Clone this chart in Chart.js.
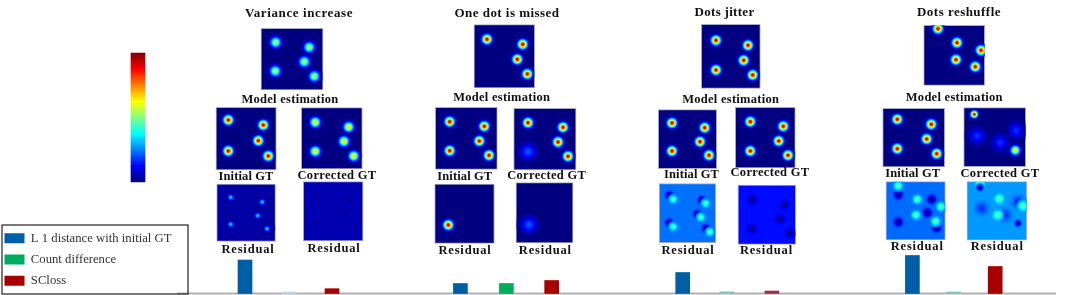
<!DOCTYPE html>
<html><head><meta charset="utf-8">
<style>html,body{margin:0;padding:0;background:#fff}canvas{display:block;filter:blur(.6px)}</style>
<script src="https://cdn.jsdelivr.net/npm/chart.js@4"></script></head>
<body><canvas id="c" width="1080" height="295"></canvas>
<script>
// ---------- bar values ----------
const barGroups=['Variance increase','One dot is missed','Dots jitter','Dots reshuffle'];
const l1Values=[33.5,10,21,38];
const countValues=[1.5,10,1.7,1.5];
const scValues=[4.8,13,2.5,27];
const l1X=[245,460.4,682.7,912.4];
const countX=[288.8,506.4,727,953.8];
const scX=[332,551.7,771.9,995.2];
const seriesNames=['L 1 distance with initial GT','Count difference','SCloss'];
// ---------- dot locations ----------
const varTop=[[275.7,42.3],[309.3,47.3],[304.3,61.7],[275.3,71],[314.3,76.3]];
const varInit=[[228.3,120],[263.3,125],[258.3,140.7],[228.3,151],[268.3,156]];
const varCorr=[[315.3,122.3],[348.7,127],[344,141.3],[315.3,151.3],[353.7,156]];
const varResL=[[230.7,197.3],[262.3,202],[257.7,215.7],[230.7,224.3],[267,228.7]];
const varResR=[[316,195.7],[349,200.3],[343.3,214],[316.7,222.7],[353.7,227.3]];
const missTop=[[487,39.3],[522.7,44.3],[517.3,59.3],[527.3,74]];
const missInit=[[449.7,121.7],[484.3,126.3],[479.3,141],[449.7,150.7],[489,155.3]];
const missCorr=[[528,122.7],[563,127.3],[558,142],[568,156.3]];
const missCorrFaint=[[528,151.7]];
const missResL=[[448.3,225]];
const missResR=[[529,224.7]];
const jitTop=[[716,40.3],[748,45.3],[743.7,60.3],[716,70],[752.7,75]];
const jitInit=[[672,123],[704.7,127.7],[700,141.7],[672,151],[709,155.3]];
const jitCorr=[[750.3,121.7],[783.3,126.3],[778.7,141],[750.3,151],[788,155.3]];
const jitResDark=[[669.3,195],[701.7,200],[697.3,214],[669.3,222.7],[706,228.3]];
const jitResBright=[[673.3,199.3],[705.7,203.3],[701,217.3],[673.3,226.7],[710,232]];
const jitResR=[[752,200],[785,204.7],[780.3,219],[752,228.7],[790,233.3]];
const shufTop=[[938,28.7],[957,42.7],[981,50.3],[956,59.7],[975.3,66.7]];
const shufInit=[[897.3,119.3],[931.3,124.3],[926.7,139],[897.3,148.7],[936.7,153.7]];
const shufCorrHot=[[974.3,114.3]];
const shufCorrFaint=[[977.3,136],[1016,130.7],[1000.3,142.7]];
const shufCorrYellow=[[1015.3,150.3]];
const shufResLBright=[[898.3,185.7],[917.3,199.3],[941,206.7],[916,215],[935.7,221.3]];
const shufResLDark=[[898.3,194.7],[931.7,199.3],[927.3,212.7],[898.3,222],[936.7,227.7]];
const shufResRBright=[[980,183.3],[999.3,198.7],[1023,206],[997.7,215]];
const shufResRDark=[[980,187.7],[1018,223.3]];
const shufResRSoft=[[1017.7,201.7],[1005,215],[981.7,208.3]];
// ---------- layout of the composite ----------
const HOT=8.5;
const panels=[
 {box:[261,323,28.3,90],bg:0,layers:[[varTop,.57,9.5]]},
 {box:[216,276.3,107.3,170],bg:0,layers:[[varInit,.92,HOT]]},
 {box:[301.3,362.3,107.7,169],bg:0,layers:[[varCorr,.68,9]]},
 {box:[216.7,275.5,184,241.5],bg:.035,layers:[[varResL,0,9],[varResL,.34,5]]},
 {box:[303.3,363,181.7,241],bg:.05,layers:[[varResR,.02,5]]},
 {box:[474,534.7,24.7,88],bg:0,layers:[[missTop,.92,HOT]]},
 {box:[435.3,497.3,107.3,169.3],bg:0,layers:[[missInit,.92,HOT]]},
 {box:[513.7,576,108.3,170],bg:0,layers:[[missCorr,.92,HOT],[missCorrFaint,.21,14]]},
 {box:[434.7,494.3,184,243.3],bg:0,layers:[[missResL,.92,HOT]]},
 {box:[516,573,182.7,243],bg:0,layers:[[missResR,.21,14]]},
 {box:[701.3,760.3,24.3,88.3],bg:0,layers:[[jitTop,.92,HOT]]},
 {box:[658.3,716.7,109.7,168.7],bg:0,layers:[[jitInit,.92,HOT]]},
 {box:[735.3,795.3,107.3,168],bg:0,layers:[[jitCorr,.92,HOT]]},
 {box:[659.3,715.7,183.7,242.6],bg:.235,layers:[[jitResDark,0,6.5],[jitResBright,.47,6.5]]},
 {box:[738,795.7,185,244.3],bg:.135,layers:[[jitResR,0,7]]},
 {box:[923.7,984.7,25.3,85.3],bg:0,layers:[[shufTop,.92,HOT]]},
 {box:[882.7,944.7,108.3,167],bg:0,layers:[[shufInit,.92,HOT]]},
 {box:[963.7,1025.7,107.7,166.7],bg:0,layers:[[shufCorrFaint,.17,14],[shufCorrHot,.92,6.5],[shufCorrYellow,.66,8.5]]},
 {box:[886,945.3,181.7,239.8],bg:.23,layers:[[shufResLDark,0,7.5],[shufResLBright,.48,7.5]]},
 {box:[967,1026.7,181.7,240.2],bg:.275,layers:[[shufResRSoft,.17,11],[shufResRBright,.48,7.5],[shufResRDark,.02,5.5]]}
];
const titleLabels=[['Variance increase',299,14],['One dot is missed',507,14],['Dots jitter',724.5,13],['Dots reshuffle',959,13]];
const subLabels=[['Model estimation',290,100],['Model estimation',501.7,98],['Model estimation',730.7,100],['Model estimation',954.3,98],
 ['Initial GT',246,176.5],['Initial GT',464.8,177],['Initial GT',691.5,175],['Initial GT',912.7,174],
 ['Corrected GT',337,175.5],['Corrected GT',546.7,176],['Corrected GT',770,173],['Corrected GT',1000,174],
 ['Residual',248,249.5],['Residual',334,248.5],['Residual',465,251],['Residual',545.3,251],
 ['Residual',688,250.5],['Residual',766.4,250.5],['Residual',917.2,247],['Residual',997.2,247]];
const labelWidths={'Variance increase':108,'One dot is missed':105,'Dots jitter':60,'Dots reshuffle':84,
 'Model estimation':97,'Initial GT':55,'Corrected GT':79,'Residual':53};
const colorbarSpan={x:138,top:53,bottom:182,width:14};
const baselineSpan=[177,1056];
const SERIF='"Liberation Serif","Times New Roman",serif';

function jet(v){
 v=Math.max(0,Math.min(1,v));
 const c=(a)=>Math.round(255*Math.max(0,Math.min(1,1.5-Math.abs(4*v-a))));
 return [c(3),c(2),c(1)];
}
const jetCss=(v,a=1)=>{const [r,g,b]=jet(v);return `rgba(${r},${g},${b},${a})`;};

function dotFill(ctx){
 const d=ctx.raw; if(!d) return 'transparent';
 const ch=ctx.chart;
 const px=ch.scales.x.getPixelForValue(d.x), py=ch.scales.y.getPixelForValue(d.y);
 if(!isFinite(px)||!isFinite(py)) return 'transparent';
 const g=ch.ctx.createRadialGradient(px,py,0,px,py,d.r);
 for(let i=0;i<=24;i++){
  const s=i/24, f=Math.exp(-Math.pow(s*1.97,2));
  g.addColorStop(s,jetCss(d.bg+(d.peak-d.bg)*f,Math.min(1,f*8)*(i===24?0:1)));
 }
 return g;
}
function colorbarFill(ctx){
 const ch=ctx.chart;
 const y=ch.scales.y, b=y.getPixelForValue(colorbarSpan.bottom), t=y.getPixelForValue(colorbarSpan.top);
 if(!isFinite(b)||!isFinite(t)) return '#00f';
 const g=ch.ctx.createLinearGradient(0,b,0,t);
 for(let i=0;i<=24;i++) g.addColorStop(i/24,jetCss(i/24));
 return g;
}
const datasets=[];
panels.forEach(p=>{
 const [x0,x1,y0,y1]=p.box;
 datasets.push({type:'bar',order:6,xAxisID:'x',yAxisID:'y',grouped:false,barThickness:x1-x0,
  data:[{x:(x0+x1)/2,y:[y0,y1]}],backgroundColor:jetCss(p.bg),borderColor:'#a9a9c9',borderWidth:1,borderSkipped:false});
 const pts=[];
 p.layers.forEach(([list,peak,r])=>list.forEach(([x,y])=>pts.push({x,y,r,peak,bg:p.bg})));
 datasets.push({type:'bubble',order:3,xAxisID:'x',yAxisID:'y',data:pts,backgroundColor:dotFill,borderWidth:0,panelClip:p.box});
});
datasets.push({type:'bar',order:6,xAxisID:'x',yAxisID:'y',grouped:false,barThickness:colorbarSpan.width,
 data:[{x:colorbarSpan.x,y:[colorbarSpan.top,colorbarSpan.bottom]}],backgroundColor:colorbarFill,borderWidth:0});
const mk=(label,xs,vals,color,colors)=>({type:'bar',label,order:1,xAxisID:'x',yAxisID:'yBar',grouped:false,barThickness:14,
 data:xs.map((x,i)=>({x,y:vals[i]})),backgroundColor:colors||color,seriesColor:color,borderWidth:0});
datasets.push(mk(seriesNames[0],l1X,l1Values,'#005ea6'));
datasets.push(mk(seriesNames[1],countX,countValues,'#00ad5c',['#b3dbe8','#00ad5c','#82c6c4','#82c8b4']));
datasets.push(mk(seriesNames[2],scX,scValues,'#a80000',['#a80000','#a80000','#a0304a','#a80000']));
datasets.push({type:'line',order:2,xAxisID:'x',yAxisID:'yBar',data:baselineSpan.map(x=>({x,y:0})),
 borderColor:'#b0b0b0',borderWidth:2,pointRadius:0,fill:false});

function fittedText(c,t,x,y){
 c.letterSpacing='0px';
 const w=c.measureText(t).width;
 c.letterSpacing=((labelWidths[t]-w)/t.length).toFixed(2)+'px';
 c.fillText(t,x,y);
}
const helper={id:'helper',
 afterLayout(ch){
  const l=ch.legend; l.left=-4; l.right=186; l.top=223.5; l.bottom=400;
 },
 beforeDatasetDraw(ch,a){
  const b=ch.data.datasets[a.index].panelClip; if(!b) return;
  const c=ch.ctx,X=ch.scales.x,Y=ch.scales.y,x0=X.getPixelForValue(b[0]),x1=X.getPixelForValue(b[1]),y0=Y.getPixelForValue(b[2]),y1=Y.getPixelForValue(b[3]);
  c.save();c.beginPath();c.rect(x0,y0,x1-x0,y1-y0);c.clip();
 },
 afterDatasetDraw(ch,a){ if(ch.data.datasets[a.index].panelClip) ch.ctx.restore(); },
 afterDraw(ch){
  const c=ch.ctx,X=ch.scales.x,Y=ch.scales.y;
  c.save();
  c.textAlign='center';c.textBaseline='middle';c.fillStyle='#111';
  c.font='bold 13px '+SERIF;
  titleLabels.forEach(([t,x,y])=>fittedText(c,t,X.getPixelForValue(x),Y.getPixelForValue(y)));
  c.font='bold 12.5px '+SERIF;
  subLabels.forEach(([t,x,y])=>fittedText(c,t,X.getPixelForValue(x),Y.getPixelForValue(y)));
  c.letterSpacing='0px';
  c.strokeStyle='#333';c.lineWidth=1.3;
  c.strokeRect(X.getPixelForValue(2),Y.getPixelForValue(225),X.getPixelForValue(188)-X.getPixelForValue(2),Y.getPixelForValue(294)-Y.getPixelForValue(225));
  c.restore();
 }
};
new Chart(document.getElementById('c'),{
 type:'bar',
 data:{datasets},
 plugins:[helper],
 options:{responsive:false,animation:false,devicePixelRatio:1,
  layout:{padding:0,autoPadding:false},
  events:[],
  scales:{
   x:{type:'linear',min:0,max:1080,offset:false,display:false},
   y:{type:'linear',min:0,max:295,reverse:true,display:false},
   yBar:{type:'linear',min:-1.5,max:293.5,display:false}
  },
  plugins:{tooltip:{enabled:false},
   legend:{display:true,position:'chartArea',align:'start',
    labels:{boxWidth:20,boxHeight:10,padding:8.5,color:'#333',font:{family:SERIF,size:12.7},
     filter:i=>!!i.text,
     generateLabels(ch){
      return Chart.defaults.plugins.legend.labels.generateLabels(ch).map(it=>{
       const ds=ch.data.datasets[it.datasetIndex];
       if(ds.seriesColor){it.fillStyle=ds.seriesColor;it.strokeStyle=ds.seriesColor;it.lineWidth=0;}
       return it;
      });
     }}}}
 }
});
</script></body></html>
